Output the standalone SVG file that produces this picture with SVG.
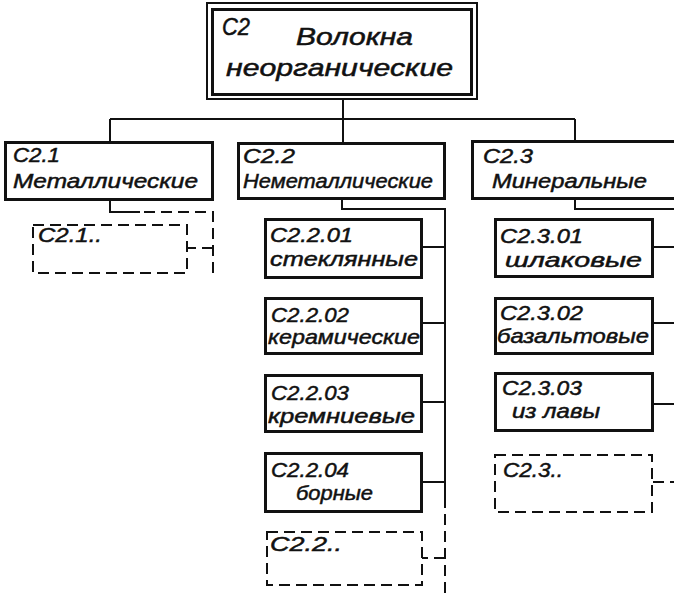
<svg xmlns="http://www.w3.org/2000/svg" width="674" height="595" viewBox="0 0 674 595">
<style>
text{font-family:"Liberation Sans","DejaVu Sans",sans-serif;font-style:italic;fill:#111;stroke:#111;stroke-width:0.5;font-size:21px}
.big{font-size:24px}
.box{fill:#fff;stroke:#111;stroke-width:3}
.dbox{fill:#fff;stroke:#111;stroke-width:2;stroke-dasharray:11 6}
.ln{fill:none;stroke:#111;stroke-width:2}
.dl{fill:none;stroke:#111;stroke-width:2;stroke-dasharray:11 6}
</style>
<rect width="674" height="595" fill="#fff"/>
<g id="connectors">
<path class="ln" d="M343 99 V119 M110 119 H575 M110 119 V142 M343 119 V142 M575 119 V141"/>
<path class="ln" d="M110 200 V212 H140"/>
<path class="dl" d="M144 212 H213 V276 M213 248 H187"/>
<path class="ln" d="M342 198 V209 H445 V508 M422 247 H445 M422 323 H445 M422 402 H445 M422 482 H445"/>
<path class="dl" d="M445 514 V595 M445 558 H422"/>
<path class="ln" d="M575 198 V209 H674 M653 247 H674 M653 323 H674 M653 404 H674"/>
<path class="dl" d="M653 482 H674"/>
</g>
<g id="n-c2">
<rect x="207" y="3" width="270" height="96" fill="#fff" stroke="#111" stroke-width="2"/>
<rect x="212.5" y="9.5" width="259" height="85" fill="none" stroke="#111" stroke-width="3"/>
<text x="222" y="35" class="big" textLength="28" lengthAdjust="spacingAndGlyphs">C2</text>
<text x="296" y="45" class="big" textLength="117" lengthAdjust="spacingAndGlyphs">Волокна</text>
<text x="226" y="76" class="big" textLength="227" lengthAdjust="spacingAndGlyphs">неорганические</text>
</g>
<g id="n-c21">
<rect class="box" x="5.5" y="142.5" width="207" height="57"/>
<text x="13" y="162" textLength="47" lengthAdjust="spacingAndGlyphs">C2.1</text>
<text x="13" y="188" textLength="185" lengthAdjust="spacingAndGlyphs">Металлические</text>
</g>
<g id="n-c21x">
<rect class="dbox" x="33" y="225" width="154" height="48"/>
<text x="38" y="242" textLength="64" lengthAdjust="spacingAndGlyphs">C2.1..</text>
</g>
<g id="n-c22">
<rect class="box" x="238.5" y="143.5" width="206" height="55"/>
<text x="243" y="163" textLength="52" lengthAdjust="spacingAndGlyphs">C2.2</text>
<text x="243" y="188" textLength="190" lengthAdjust="spacingAndGlyphs">Неметаллические</text>
</g>
<g id="n-c2201">
<rect class="box" x="265.5" y="219.5" width="156" height="58"/>
<text x="270" y="242" textLength="83" lengthAdjust="spacingAndGlyphs">C2.2.01</text>
<text x="270" y="266" textLength="148" lengthAdjust="spacingAndGlyphs">стеклянные</text>
</g>
<g id="n-c2202">
<rect class="box" x="265.5" y="298.5" width="156" height="55"/>
<text x="271" y="322" textLength="78" lengthAdjust="spacingAndGlyphs">C2.2.02</text>
<text x="268" y="344" textLength="152" lengthAdjust="spacingAndGlyphs">керамические</text>
</g>
<g id="n-c2203">
<rect class="box" x="265.5" y="375.5" width="156" height="56"/>
<text x="271" y="400" textLength="78" lengthAdjust="spacingAndGlyphs">C2.2.03</text>
<text x="268" y="423" textLength="147" lengthAdjust="spacingAndGlyphs">кремниевые</text>
</g>
<g id="n-c2204">
<rect class="box" x="265.5" y="453.5" width="156" height="58"/>
<text x="271" y="477" textLength="78" lengthAdjust="spacingAndGlyphs">C2.2.04</text>
<text x="296" y="500" textLength="77" lengthAdjust="spacingAndGlyphs">борные</text>
</g>
<g id="n-c22x">
<rect class="dbox" x="267" y="532" width="155" height="53"/>
<text x="270" y="551" textLength="72" lengthAdjust="spacingAndGlyphs">C2.2..</text>
</g>
<g id="n-c23">
<rect class="box" x="472.5" y="141.5" width="206" height="57"/>
<text x="483" y="163" textLength="50" lengthAdjust="spacingAndGlyphs">C2.3</text>
<text x="492" y="188" textLength="155" lengthAdjust="spacingAndGlyphs">Минеральные</text>
</g>
<g id="n-c2301">
<rect class="box" x="495.5" y="219.5" width="157" height="57"/>
<text x="500" y="243" textLength="83" lengthAdjust="spacingAndGlyphs">C2.3.01</text>
<text x="505" y="267" textLength="137" lengthAdjust="spacingAndGlyphs">шлаковые</text>
</g>
<g id="n-c2302">
<rect class="box" x="495.5" y="298.5" width="157" height="55"/>
<text x="500" y="320" textLength="83" lengthAdjust="spacingAndGlyphs">C2.3.02</text>
<text x="497" y="343" textLength="152" lengthAdjust="spacingAndGlyphs">базальтовые</text>
</g>
<g id="n-c2303">
<rect class="box" x="495.5" y="373.5" width="157" height="57"/>
<text x="502" y="395" textLength="80" lengthAdjust="spacingAndGlyphs">C2.3.03</text>
<text x="512" y="418" textLength="88" lengthAdjust="spacingAndGlyphs">из лавы</text>
</g>
<g id="n-c23x">
<rect class="dbox" x="495" y="455" width="157" height="57"/>
<text x="503" y="477" textLength="60" lengthAdjust="spacingAndGlyphs">C2.3..</text>
</g>
</svg>
